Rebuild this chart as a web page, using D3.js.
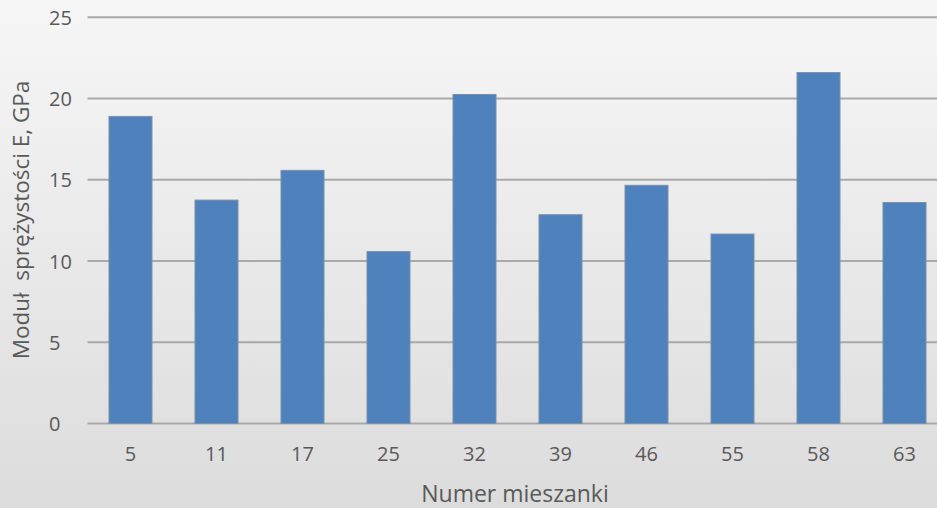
<!DOCTYPE html>
<html>
<head>
<meta charset="utf-8">
<script src="https://cdn.jsdelivr.net/npm/d3@7"></script>
<style>
  html, body { margin: 0; padding: 0; }
  body { width: 937px; height: 508px; overflow: hidden; }
  svg { display: block; }
</style>
</head>
<body>
<svg id="chart" width="937" height="508"></svg>
<script>
// Mixture numbers and their modulus of elasticity (GPa)
const categories = ["5", "11", "17", "25", "32", "39", "46", "55", "58", "63"];
const modulusValues = [18.9, 13.75, 15.58, 10.58, 20.25, 12.85, 14.66, 11.66, 21.6, 13.6];
const yTicks = [0, 5, 10, 15, 20, 25];

const width = 937, height = 508;
const margin = { left: 87.5, right: -10.5, top: 17.3, bottom: 84.5 };
const fontFamily = "'Open Sans', 'Noto Sans', sans-serif";
const textColor = "#595959";

const svg = d3.select("#chart");

// soft gray background gradient
const defs = svg.append("defs");
const grad = defs.append("linearGradient")
  .attr("id", "bg").attr("x1", 0).attr("y1", 0).attr("x2", 0).attr("y2", 1);
grad.append("stop").attr("offset", "0%").attr("stop-color", "#f6f6f6");
grad.append("stop").attr("offset", "100%").attr("stop-color", "#dcdcdc");
svg.append("rect").attr("width", width).attr("height", height).attr("fill", "url(#bg)");

const x = d3.scaleBand()
  .domain(categories)
  .range([margin.left, width - margin.right])
  .paddingInner(0.5)
  .paddingOuter(0.25);

const y = d3.scaleLinear()
  .domain([0, 25])
  .range([height - margin.bottom, margin.top]);

// horizontal gridlines
svg.append("g")
  .selectAll("line")
  .data(yTicks)
  .join("line")
  .attr("x1", margin.left)
  .attr("x2", width - margin.right)
  .attr("y1", d => y(d))
  .attr("y2", d => y(d))
  .attr("stroke", "#a9a9a9")
  .attr("stroke-width", 2);

// y axis labels (left-aligned in their column)
const yAxis = d3.axisLeft(y).tickValues(yTicks).tickSize(0).tickPadding(0);
const gy = svg.append("g")
  .attr("transform", "translate(49,0)")
  .call(yAxis);
gy.select(".domain").remove();
gy.selectAll("text")
  .attr("font-family", fontFamily)
  .attr("font-size", 20)
  .attr("fill", textColor)
  .attr("text-anchor", "start")
  .attr("x", 0)
  .attr("dy", "0.36em");

// bars
svg.append("g")
  .selectAll("rect")
  .data(categories.map((c, i) => ({ c, v: modulusValues[i] })))
  .join("rect")
  .attr("x", d => x(d.c))
  .attr("width", x.bandwidth())
  .attr("y", d => y(d.v))
  .attr("height", d => y(0) - y(d.v))
  .attr("fill", "#4f81bd")
  .attr("stroke", "#7b90aa")
  .attr("stroke-width", 1);

// x axis labels
const xAxis = d3.axisBottom(x).tickSize(0).tickPadding(0);
const gx = svg.append("g")
  .attr("transform", `translate(0,${y(0) + 30})`)
  .call(xAxis);
gx.select(".domain").remove();
gx.selectAll("text")
  .attr("font-family", fontFamily)
  .attr("font-size", 20)
  .attr("fill", textColor)
  .attr("dy", "0.36em");

// axis titles
svg.append("text")
  .attr("x", 515)
  .attr("y", 502)
  .attr("text-anchor", "middle")
  .attr("font-family", fontFamily)
  .attr("font-size", 23)
  .attr("fill", textColor)
  .text("Numer mieszanki");

svg.append("text")
  .attr("transform", "translate(29,220) rotate(-90)")
  .attr("text-anchor", "middle")
  .attr("font-family", fontFamily)
  .attr("font-size", 22.5)
  .attr("fill", textColor)
  .attr("xml:space", "preserve")
  .style("white-space", "pre")
  .text("Moduł  sprężystości E, GPa");
</script>
</body>
</html>
